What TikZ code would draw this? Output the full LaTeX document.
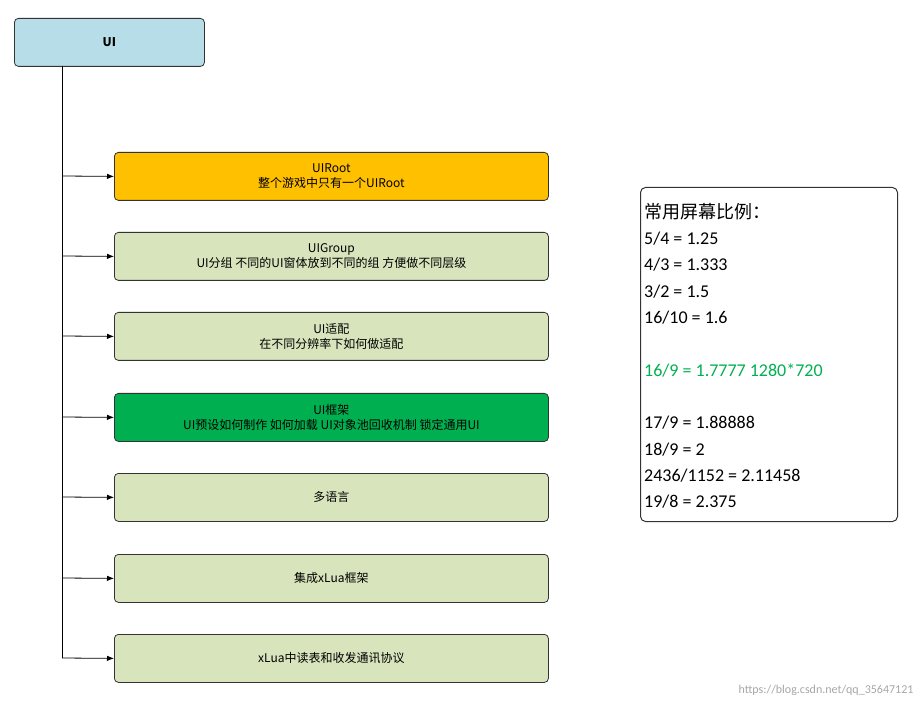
\documentclass[tikz,border=0pt]{standalone}
\usepackage{fontspec}
\usetikzlibrary{arrows.meta}
\setmainfont{Carlito}
\newfontfamily\cjk{Noto Sans CJK SC}
\begin{document}
\begin{tikzpicture}[x=1pt,y=-1pt,
  box/.style={draw=black!80,line width=0.8pt,rounded corners=4pt,minimum width=434pt,minimum height=48pt,anchor=north west,align=center,font=\cjk\fontsize{12}{15}\selectfont,inner sep=1pt},
  lg/.style={box,fill=lgreen},
  arr/.style={-{Latex[length=7pt,width=5.5pt]},line width=0.8pt}]
\definecolor{lblue}{HTML}{B7DDE8}
\definecolor{orng}{HTML}{FFC000}
\definecolor{lgreen}{HTML}{D7E4BC}
\definecolor{dgreen}{HTML}{00B050}
\useasboundingbox (0,0) rectangle (921,708);
\node[box,fill=lblue,minimum width=190pt,font=\cjk\bfseries\fontsize{12}{15}\selectfont] (ui) at (14,18) {UI};
\coordinate (top) at (62,66);
\coordinate (bot) at (62,658);
\draw[line width=0.8pt] (top) -- (bot);
\node[box,fill=orng] (b1) at (114,152) {UIRoot\\整个游戏中只有一个UIRoot};
\node[lg] (b2) at (114,232) {UIGroup\\UI分组 不同的UI窗体放到不同的组 方便做不同层级};
\node[lg] (b3) at (114,312) {UI适配\\在不同分辨率下如何做适配};
\node[box,fill=dgreen] (b4) at (114,393) {UI框架\\UI预设如何制作 如何加载 UI对象池回收机制 锁定通用UI};
\node[lg] (b5) at (114,473) {多语言};
\node[lg] (b6) at (114,554) {集成xLua框架};
\node[lg] (b7) at (114,634) {xLua中读表和收发通讯协议};
\foreach \b/\y in {b1/176,b2/256,b3/336,b4/417,b5/497,b6/578,b7/658}
  \draw[arr] (62,\y) -- (\b.west);
\node[draw=black!80,line width=1pt,rounded corners=5pt,minimum width=257pt,minimum height=334pt,anchor=north west] (panel) at (640,187) {};
\node[anchor=north west,align=left,inner sep=0pt,font=\fontsize{18}{26.3}\selectfont] (txt) at (644,203) {%
{\cjk 常用屏幕比例：}\\
5/4 = 1.25\\
4/3 = 1.333\\
3/2 = 1.5\\
16/10 = 1.6\\[26.3pt]
\textcolor{dgreen}{16/9 = 1.7777 1280*720}\\[26.3pt]
17/9 = 1.88888\\
18/9 = 2\\
2436/1152 = 2.11458\\
19/8 = 2.375};
\node[anchor=east,text=black!35,font=\fontsize{12}{14}\selectfont] (wm) at (917,690) {https://blog.csdn.net/qq\_35647121};
\end{tikzpicture}
\end{document}
